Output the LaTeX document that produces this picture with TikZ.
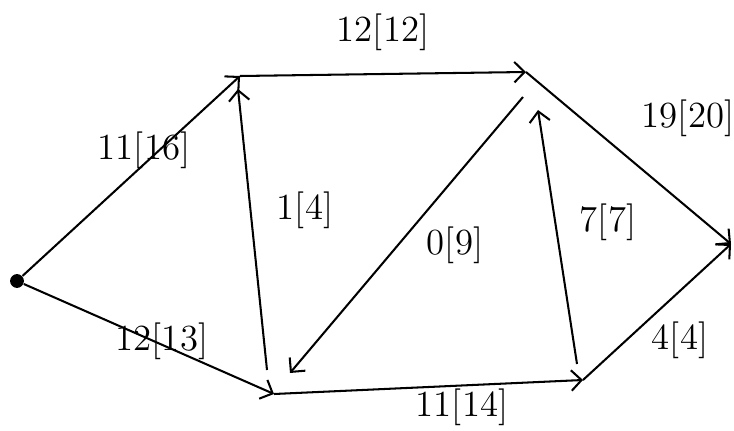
\documentclass[tikz,border=0pt]{standalone}
\usepackage{amsmath}
\usetikzlibrary{positioning,arrows.meta,calc}

\begin{document}
\begin{tikzpicture}[
    x=0.01375cm, y=-0.01375cm,
    font=\Large,
    src/.style={circle, fill=black, inner sep=0pt, minimum size=1.9mm},
    flow/.style={-{Straight Barb[length=4pt, width=8pt]}, thick},
    capnum/.style={inner sep=1pt},
  ]
  \useasboundingbox (0,0) rectangle (734,431);
  % --- vertices ---
  \node[src] (s) at (17,281) {};
  \coordinate (v1) at (240,76);
  \coordinate (v2) at (526,72);
  \coordinate (t)  at (731,244);
  \coordinate (v3) at (274,394);
  \coordinate (v4) at (583,380);
  % --- free ends of the inner arcs ---
  \coordinate (v3top) at (267,370);
  \coordinate (v1bot) at (238,89);
  \coordinate (v2bot) at (523,97);
  \coordinate (v3up)  at (290,373);
  \coordinate (v4top) at (577,364);
  \coordinate (v2low) at (538,110);
  % --- outer arcs ---
  \draw[flow] (s) -- (v1);
  \draw[flow] (v1) -- (v2);
  \draw[flow] (v2) -- (t);
  \draw[flow] (s) -- (v3);
  \draw[flow] (v3) -- (v4);
  \draw[flow] (v4) -- (t);
  % --- inner arcs ---
  \draw[flow] (v3top) -- (v1bot);
  \draw[flow] (v2bot) -- (v3up);
  \draw[flow] (v4top) -- (v2low);
  % --- flow[capacity] labels ---
  \node[capnum] (l1) at (144,150) {11[16]};
  \node[capnum] (l2) at (383,32)  {12[12]};
  \node[capnum] (l3) at (688,118) {19[20]};
  \node[capnum] (l4) at (305,210) {1[4]};
  \node[capnum] (l5) at (455,245) {0[9]};
  \node[capnum] (l6) at (608,222) {7[7]};
  \node[capnum] (l7) at (162,341) {12[13]};
  \node[capnum] (l8) at (462,407) {11[14]};
  \node[capnum] (l9) at (680,340) {4[4]};
\end{tikzpicture}
\end{document}
